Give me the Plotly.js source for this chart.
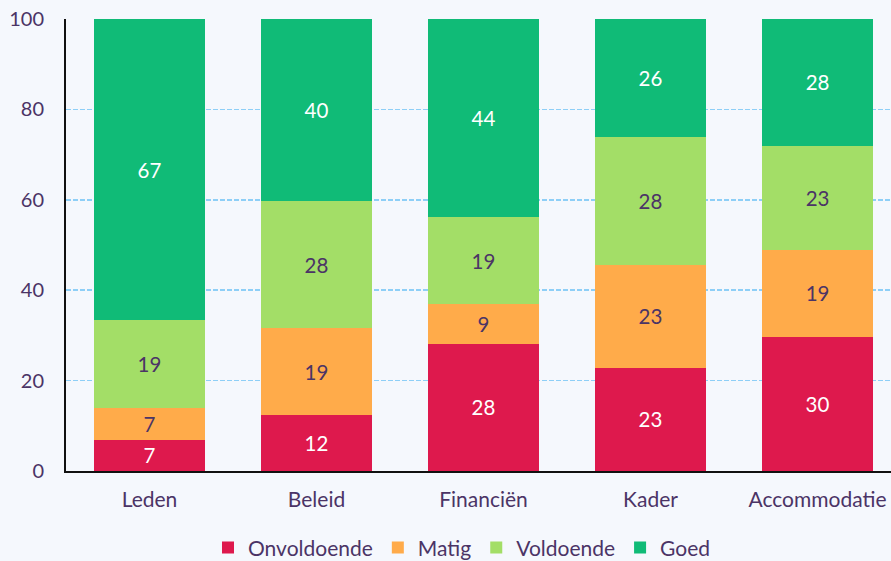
<!DOCTYPE html>
<html><head><meta charset="utf-8">
<script src="https://cdn.plot.ly/plotly-3.0.1.min.js"></script>
<style>html,body{margin:0;padding:0;background:#f5f8fd;}</style>
</head><body>
<div id="chart" style="width:891px;height:561px;"></div>
<script>
const categories = ["Leden", "Beleid", "Financiën", "Kader", "Accommodatie"];
const onvoldoende = [6.9, 12.4, 28.1, 22.8, 29.6];
const matig = [7.0, 19.2, 8.8, 22.8, 19.4];
const voldoende = [19.4, 28.1, 19.3, 28.3, 23.0];
const goed = [66.7, 40.3, 43.8, 26.1, 28.0];
const seriesNames = ["Onvoldoende", "Matig", "Voldoende", "Goed"];
const colors = ["#de194d", "#ffab4a", "#a3de67", "#10bb77"];
const textColors = ["#ffffff", "#4b3466", "#4b3466", "#ffffff"];
const series = [onvoldoende, matig, voldoende, goed];

const traces = series.map((vals, i) => ({
  type: "bar",
  name: seriesNames[i],
  x: categories,
  y: vals,
  marker: {color: colors[i], line: {width: 0}},
  text: vals.map(v => String(Math.round(v))),
  textposition: "inside",
  insidetextanchor: "middle",
  textangle: 0,
  textfont: {family: "Lato", size: 20.5, color: textColors[i]},
  hoverinfo: "none"
}));

const layout = {
  width: 891, height: 561,
  barmode: "stack",
  bargap: 0.335,
  paper_bgcolor: "#f5f8fd",
  plot_bgcolor: "#f5f8fd",
  font: {family: "Lato", size: 20, color: "#4b3466"},
  margin: {l: 66, r: 0, t: 19, b: 90, autoexpand: false},
  xaxis: {
    range: [-0.5, 4.44],
    showline: true, linecolor: "#111111", linewidth: 2,
    ticks: "", showgrid: false, automargin: false,
    ticklabelstandoff: 9,
    tickfont: {family: "Lato", size: 21, color: "#4b3466"}
  },
  yaxis: {
    range: [0, 100],
    tickvals: [0, 20, 40, 60, 80, 100],
    showline: true, linecolor: "#111111", linewidth: 2,
    gridcolor: "#8ecff7", griddash: "5px,2px", gridwidth: 1.5,
    zeroline: false, automargin: false,
    ticks: "", ticklabelstandoff: 16,
    tickfont: {family: "Lato", size: 20, color: "#4b3466"}
  },
  showlegend: true,
  legend: {
    orientation: "h", x: 0.48, xanchor: "center", xref: "paper",
    y: -0.17, yanchor: "middle",
    font: {family: "Lato", size: 21, color: "#4b3466"},
    traceorder: "normal",
    itemwidth: 30
  },
  uniformtext: {mode: false}
};

Plotly.newPlot("chart", traces, layout, {displayModeBar: false, staticPlot: true});
</script>
</body></html>
